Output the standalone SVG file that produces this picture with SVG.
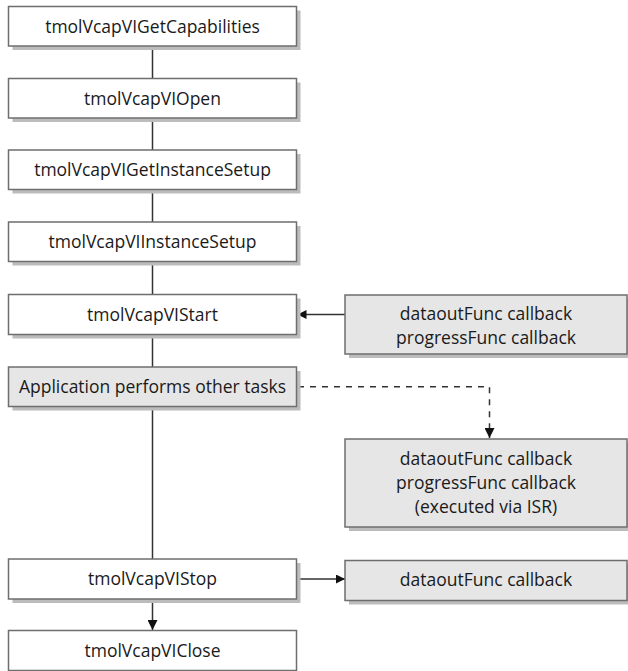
<svg xmlns="http://www.w3.org/2000/svg" width="628" height="671" viewBox="0 0 628 671">
<style>
.box{stroke:#6e6e6e;stroke-width:1.5}
.w{fill:#ffffff}
.g{fill:#e6e6e6}
.sh{fill:#bcbcbc}
.t{font-family:"Open Sans","Liberation Sans",sans-serif;font-size:17.5px;fill:#1a1a1a;text-anchor:middle}
.ln{stroke:#333333;stroke-width:1.5;fill:none}
.dash{stroke:#333333;stroke-width:1.5;fill:none;stroke-dasharray:6,6}
</style>
<defs>
<marker id="ah" viewBox="0 0 10 10" refX="10" refY="5" markerWidth="13" markerHeight="9" markerUnits="userSpaceOnUse" orient="auto">
<path d="M0,0 L10,5 L0,10 Z" fill="#111111"/>
</marker>
<marker id="ahv" viewBox="0 0 10 10" refX="10" refY="5" markerWidth="14" markerHeight="10" markerUnits="userSpaceOnUse" orient="auto">
<path d="M0,0 L10,5 L0,10 Z" fill="#111111"/>
</marker>
</defs>
<g id="connectors">
<line class="ln" x1="152.5" y1="46" x2="152.5" y2="367"/>
<line class="ln" x1="152.5" y1="406.5" x2="152.5" y2="559"/>
<line class="ln" x1="152.5" y1="599" x2="152.5" y2="630" marker-end="url(#ahv)"/>
<line class="ln" x1="345" y1="314.5" x2="297.5" y2="314.5" marker-end="url(#ah)"/>
<line class="ln" x1="297.5" y1="579" x2="345" y2="579" marker-end="url(#ah)"/>
<path class="dash" d="M298,386.7 H489.5 V438" marker-end="url(#ahv)"/>
</g>
<g id="n1">
<rect class="sh" x="12.5" y="10.5" width="288" height="39.5"/>
<rect class="box w" x="8.5" y="6.5" width="288" height="39.5"/>
<text class="t" x="152.5" y="32.5">tmolVcapVIGetCapabilities</text>
</g>
<g id="n2">
<rect class="sh" x="12.5" y="82.5" width="288" height="39.5"/>
<rect class="box w" x="8.5" y="78.5" width="288" height="39.5"/>
<text class="t" x="152.5" y="104.5">tmolVcapVIOpen</text>
</g>
<g id="n3">
<rect class="sh" x="12.5" y="154" width="288" height="39.5"/>
<rect class="box w" x="8.5" y="150" width="288" height="39.5"/>
<text class="t" x="152.5" y="176">tmolVcapVIGetInstanceSetup</text>
</g>
<g id="n4">
<rect class="sh" x="12.5" y="226" width="288" height="39.5"/>
<rect class="box w" x="8.5" y="222" width="288" height="39.5"/>
<text class="t" x="152.5" y="248">tmolVcapVIInstanceSetup</text>
</g>
<g id="n5">
<rect class="sh" x="12.5" y="298.5" width="288" height="40"/>
<rect class="box w" x="8.5" y="294.5" width="288" height="40"/>
<text class="t" x="152.5" y="320.5">tmolVcapVIStart</text>
</g>
<g id="n6">
<rect class="sh" x="12.5" y="371" width="288" height="39.5"/>
<rect class="box g" x="8.5" y="367" width="288" height="39.5"/>
<text class="t" x="152.5" y="393">Application performs other tasks</text>
</g>
<g id="n7">
<rect class="sh" x="12.5" y="563" width="288" height="40"/>
<rect class="box w" x="8.5" y="559" width="288" height="40"/>
<text class="t" x="152.5" y="585">tmolVcapVIStop</text>
</g>
<g id="n8">
<rect class="box w" x="8.5" y="630.5" width="288" height="40"/>
<text class="t" x="152.5" y="656.5">tmolVcapVIClose</text>
</g>
<g id="r1">
<rect class="sh" x="349" y="299" width="282" height="59"/>
<rect class="box g" x="345" y="295" width="282" height="59"/>
<text class="t" x="486" y="319.5">dataoutFunc callback</text>
<text class="t" x="486" y="343.5">progressFunc callback</text>
</g>
<g id="r2">
<rect class="sh" x="349" y="443" width="282" height="88"/>
<rect class="box g" x="345" y="439" width="282" height="88"/>
<text class="t" x="486" y="465">dataoutFunc callback</text>
<text class="t" x="486" y="489">progressFunc callback</text>
<text class="t" x="486" y="513">(executed via ISR)</text>
</g>
<g id="r3">
<rect class="sh" x="349" y="564.5" width="282" height="40"/>
<rect class="box g" x="345" y="560.5" width="282" height="40"/>
<text class="t" x="486" y="586">dataoutFunc callback</text>
</g>
</svg>
